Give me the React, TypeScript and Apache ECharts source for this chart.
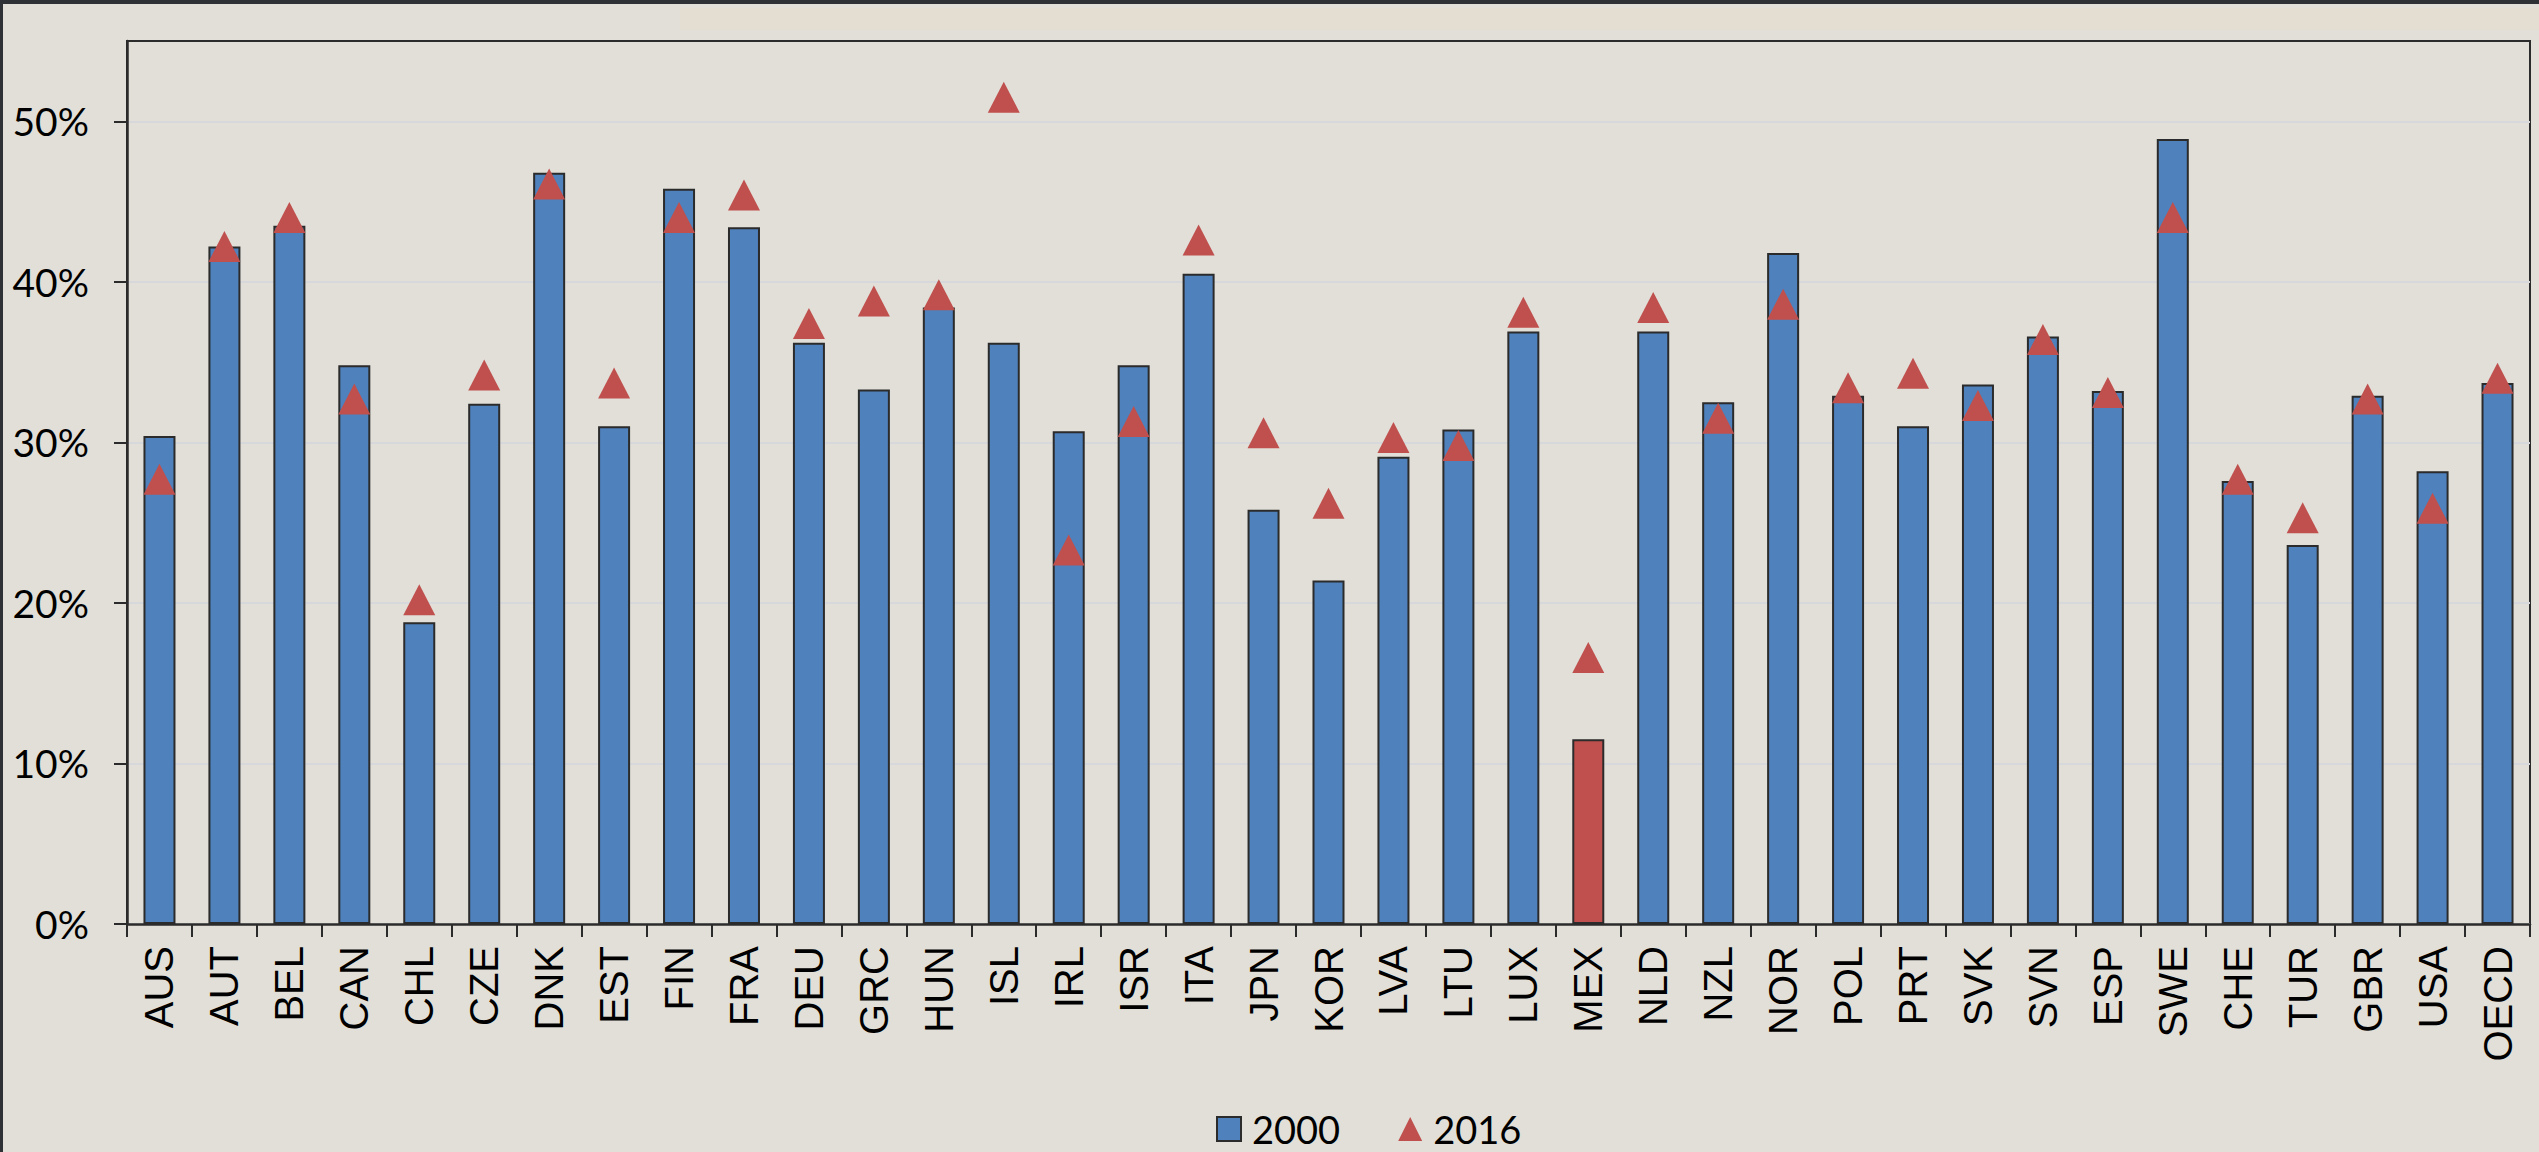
import React, { useEffect, useRef } from "react";
import * as echarts from "echarts";

const categories = [
  "AUS", "AUT", "BEL", "CAN", "CHL", "CZE", "DNK", "EST", "FIN", "FRA",
  "DEU", "GRC", "HUN", "ISL", "IRL", "ISR", "ITA", "JPN", "KOR", "LVA",
  "LTU", "LUX", "MEX", "NLD", "NZL", "NOR", "POL", "PRT", "SVK", "SVN",
  "ESP", "SWE", "CHE", "TUR", "GBR", "USA", "OECD",
];

const values2000 = [
  30.4, 42.2, 43.5, 34.8, 18.8, 32.4, 46.8, 31.0, 45.8, 43.4,
  36.2, 33.3, 38.4, 36.2, 30.7, 34.8, 40.5, 25.8, 21.4, 29.1,
  30.8, 36.9, 11.5, 36.9, 32.5, 41.8, 32.9, 31.0, 33.6, 36.6,
  33.2, 48.9, 27.6, 23.6, 32.9, 28.2, 33.7,
];

const values2016 = [
  27.7, 42.2, 44.0, 32.7, 20.2, 34.2, 46.1, 33.7, 44.0, 45.4,
  37.4, 38.8, 39.2, 51.5, 23.3, 31.3, 42.6, 30.6, 26.2, 30.3,
  29.8, 38.1, 16.6, 38.4, 31.5, 38.6, 33.4, 34.3, 32.3, 36.4,
  33.1, 44.0, 27.7, 25.3, 32.7, 25.9, 34.0,
];

const highlightCategory = "MEX";
const yTickLabels = [0, 10, 20, 30, 40, 50];
const legendNames = ["2000", "2016"];

const BLUE = "#4F81BD";
const RED = "#C0504D";
const DARK = "#2B2B2B";
const BG = "#E1DFD8";

export default function App() {
  const ref = useRef<HTMLDivElement>(null);

  useEffect(() => {
    if (!ref.current) return;
    const chart = echarts.init(ref.current, null, { renderer: "svg" });

    const barData = values2000.map((v, i) =>
      categories[i] === highlightCategory
        ? { value: v, itemStyle: { color: RED } }
        : v
    );

    chart.setOption({
      animation: false,
      backgroundColor: BG,
      graphic: [
        {
          type: "rect",
          shape: { x: 0, y: 0, width: 2539, height: 4 },
          style: { fill: "#2E3236" },
          silent: true,
        },
        {
          type: "rect",
          shape: { x: 0, y: 0, width: 3, height: 1152 },
          style: { fill: "#2E3236" },
          silent: true,
        },
        {
          type: "rect",
          shape: { x: 680, y: 8, width: 1859, height: 22 },
          style: { fill: "#E4DDD2" },
          silent: true,
        },
      ],
      grid: {
        left: 127,
        top: 41,
        width: 2403,
        height: 883,
        show: true,
        borderColor: DARK,
        borderWidth: 2,
        backgroundColor: "transparent",
      },
      legend: {
        left: 1216,
        top: 1110,
        itemWidth: 24,
        itemHeight: 24,
        itemGap: 58,
        padding: 0,
        textStyle: {
          fontFamily: "Lato",
          fontSize: 38,
          lineHeight: 38,
          color: "#000",
          padding: [0, 0, 0, 6],
        },
        data: [
          { name: legendNames[0], icon: "rect" },
          { name: legendNames[1], icon: "triangle" },
        ],
      },
      xAxis: {
        type: "category",
        data: categories,
        axisLine: { show: true, lineStyle: { color: DARK, width: 2.5 } },
        axisTick: {
          show: true,
          length: 13,
          lineStyle: { color: DARK, width: 2 },
        },
        axisLabel: {
          rotate: 90,
          interval: 0,
          margin: 22,
          fontFamily: "Liberation Sans",
          fontSize: 40,
          color: "#000",
        },
        splitLine: { show: false },
      },
      yAxis: {
        type: "value",
        min: 0,
        max: 55,
        interval: 10,
        axisLine: { show: true, lineStyle: { color: DARK, width: 2.5 } },
        axisTick: {
          show: true,
          length: 13,
          lineStyle: { color: DARK, width: 2 },
          customValues: yTickLabels,
        },
        axisLabel: {
          margin: 38,
          fontFamily: "Lato",
          fontSize: 39,
          color: "#000",
          customValues: yTickLabels,
          formatter: (v: number) => `${v}%`,
        },
        splitLine: {
          show: true,
          lineStyle: { color: "#D6D8DB", width: 2 },
        },
      },
      series: [
        {
          name: legendNames[0],
          type: "bar",
          data: barData,
          barWidth: 32,
          itemStyle: {
            color: BLUE,
            borderColor: DARK,
            borderWidth: 2,
          },
          z: 2,
        },
        {
          name: legendNames[1],
          type: "scatter",
          data: values2016,
          symbol: "triangle",
          symbolSize: [32, 31],
          itemStyle: { color: RED, opacity: 1 },
          z: 3,
        },
      ],
    });

    return () => chart.dispose();
  }, []);

  return (
    <div
      ref={ref}
      style={{
        position: "absolute",
        left: 0,
        top: 0,
        width: 2539,
        height: 1152,
      }}
    />
  );
}
